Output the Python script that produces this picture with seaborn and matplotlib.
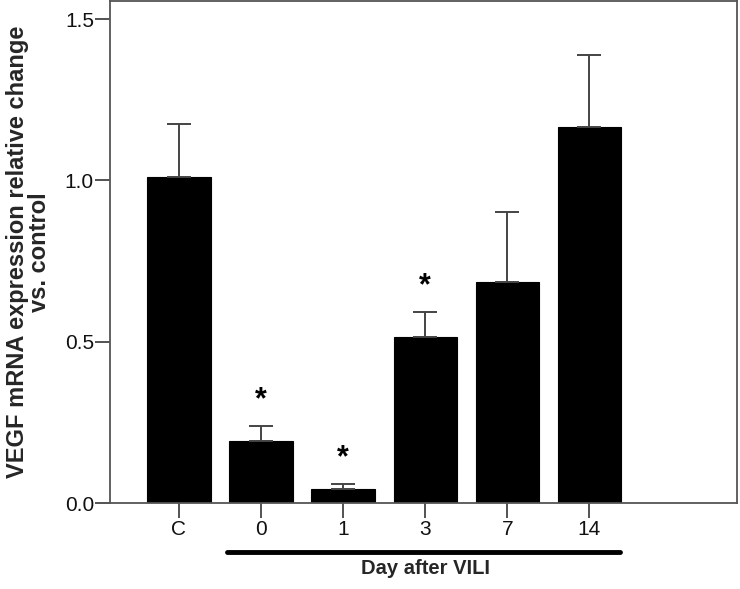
import numpy as np
import pandas as pd
import matplotlib
matplotlib.use("Agg")
import matplotlib.pyplot as plt
import seaborn as sns

# values
groups = ["C", "0", "1", "3", "7", "14"]
means = [1.010, 0.192, 0.043, 0.514, 0.685, 1.165]
sems = [0.164, 0.047, 0.016, 0.078, 0.217, 0.223]
significant = [False, True, True, True, False, False]

sns.set_style("ticks")
plt.rcParams["font.family"] = ["Liberation Sans", "DejaVu Sans"]

df = pd.DataFrame({"group": groups, "mean": means})

fig = plt.figure(figsize=(7.4, 5.89), dpi=100)
ax = fig.add_axes([0.1486, 0.146, 0.8474, 0.852])

sns.barplot(data=df, x="group", y="mean", color="black", width=0.77,
            edgecolor="black", linewidth=0.8, saturation=1, ax=ax)

xpos = np.arange(len(groups))
ax.errorbar(xpos, means, yerr=[np.zeros(len(sems)), sems], fmt="none",
            ecolor="#444444", elinewidth=1.4, capsize=8.3, capthick=1.4, zorder=3)

for x, m, s, sig in zip(xpos, means, sems, significant):
    if sig:
        ax.text(x, m + s + 0.08, "*", ha="center", va="center",
                fontsize=22, fontweight="bold", color="black")

ax.set_xlim(-0.84, 6.8)
ax.set_ylim(0, 1.556)
ax.set_yticks([0.0, 0.5, 1.0, 1.5])
ax.set_yticklabels(["0.0", "0.5", "1.0", "1.5"])

for side in ["left", "right", "top", "bottom"]:
    ax.spines[side].set_visible(True)
    ax.spines[side].set_color("#555555")
    ax.spines[side].set_linewidth(1.3)

ax.tick_params(axis="both", direction="out", length=10.5, width=1.3,
               color="#444444", labelsize=15, labelcolor="#111111")
ax.tick_params(axis="y", pad=1)
ax.tick_params(axis="x", pad=2)

ax.set_xlabel("")
ax.set_ylabel("VEGF mRNA expression relative change\nvs. control",
              fontsize=17, fontweight="bold", linespacing=0.95)
ax.yaxis.set_label_coords(-0.094, 0.5)

# underline for the day groups
trans = ax.get_xaxis_transform()
ax.plot([1 - 0.42, 5 + 0.38], [-0.097, -0.097], color="black", linewidth=3.5,
        solid_capstyle="round", transform=trans, clip_on=False)
ax.text(3, -0.13, "Day after VILI", ha="center", va="center",
        fontsize=14.5, fontweight="bold", transform=trans)

fig.savefig("out.png", dpi=100)
